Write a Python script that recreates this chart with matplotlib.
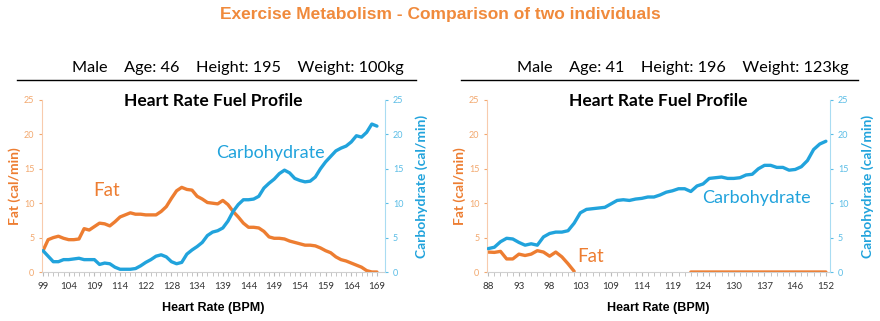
import numpy as np
import matplotlib.pyplot as plt
from matplotlib.lines import Line2D

ORANGE = "#ED7D31"
BLUE = "#21A3DC"
LIGHT_ORANGE = "#F2A86E"
LIGHT_BLUE = "#5BBDE6"

# person 1: Male, 46, 195, 100kg
hr_labels_1 = ["99", "104", "109", "114", "122", "128", "134", "139",
               "144", "149", "154", "159", "164", "169"]
fat_1 = [3.1, 4.7, 5.0, 5.2, 4.9, 4.7, 4.7, 4.8, 6.3, 6.1, 6.6, 7.1, 7.0, 6.7,
         7.3, 8.0, 8.3, 8.6, 8.4, 8.4, 8.3, 8.3, 8.3, 8.8, 9.5, 10.7, 11.8, 12.3,
         12.0, 11.9, 11.0, 10.6, 10.1, 10.0, 9.9, 10.4, 9.8, 8.8, 8.0, 7.1, 6.5,
         6.5, 6.4, 5.9, 5.1, 4.9, 4.9, 4.8, 4.5, 4.3, 4.1, 3.9, 3.9, 3.8, 3.5,
         3.1, 2.8, 2.2, 1.8, 1.6, 1.3, 1.0, 0.7, 0.2, 0.0, 0.0]
carb_1 = [3.1, 2.3, 1.5, 1.5, 1.8, 1.8, 1.9, 2.0, 1.8, 1.8, 1.8, 1.1, 1.3, 1.2,
          0.7, 0.4, 0.4, 0.4, 0.5, 0.9, 1.4, 1.8, 2.3, 2.5, 2.2, 1.5, 1.2, 1.4,
          2.6, 3.2, 3.7, 4.3, 5.3, 5.8, 6.0, 6.4, 7.4, 8.8, 9.8, 10.5, 10.5,
          10.6, 11.0, 12.2, 12.9, 13.5, 14.3, 14.8, 14.4, 13.6, 13.3, 13.1,
          13.2, 13.8, 15.0, 16.0, 16.8, 17.6, 18.0, 18.3, 18.9, 19.8, 19.6,
          20.3, 21.5, 21.2]

# person 2: Male, 41, 196, 123kg
hr_labels_2 = ["88", "93", "98", "103", "109", "114", "119", "124", "130",
               "137", "146", "152"]
nan = np.nan
fat_2 = [2.9, 2.85, 3.0, 1.9, 1.9, 2.6, 2.4, 2.6, 3.1, 2.9, 2.3, 2.9, 2.2, 1.2,
         0.1] + [nan] * 18 + [0.0] * 23
carb_2 = [3.4, 3.6, 4.4, 4.9, 4.8, 4.3, 3.9, 4.1, 3.9, 5.1, 5.6, 5.8, 5.8, 6.0,
          7.1, 8.6, 9.1, 9.2, 9.3, 9.4, 9.9, 10.4, 10.5, 10.4, 10.6, 10.7, 10.9,
          10.9, 11.2, 11.6, 11.8, 12.1, 12.1, 11.7, 12.5, 12.8, 13.6, 13.7,
          13.8, 13.6, 13.6, 13.7, 14.1, 14.2, 15.0, 15.5, 15.5, 15.2, 15.2,
          14.8, 14.9, 15.3, 16.2, 17.8, 18.6, 19.0]

plt.rcParams["font.family"] = ["Lato", "DejaVu Sans"]

fig = plt.figure(figsize=(8.8, 3.21), dpi=100)

fig.text(0.5, 0.955, "Exercise Metabolism - Comparison of two individuals",
         ha="center", va="center", color="#F08A3C", fontsize=12.5,
         fontweight="bold", family="Liberation Sans")


def panel(left, header, labels, fat, carb, fat_pos, carb_pos, hline):
    ax = fig.add_axes([left, 0.1526, 0.39, 0.536])
    x = np.arange(len(fat))
    ax.plot(x, fat, color=ORANGE, lw=2.4, solid_capstyle="round")
    ax2 = ax.twinx()
    ax2.plot(x, carb, color=BLUE, lw=2.4, solid_capstyle="round")

    for a in (ax, ax2):
        a.set_ylim(0, 25)
        a.set_yticks(range(0, 26, 5))
        a.set_xlim(-0.2, len(fat) + 0.6 if len(fat) > 60 else len(fat) - 0.3)
        a.spines["top"].set_visible(False)
    ax.spines["right"].set_visible(False)
    ax.spines["left"].set_color("#F8CBAD")
    ax2.spines["left"].set_visible(False)
    ax2.spines["bottom"].set_visible(False)
    ax2.spines["right"].set_color("#A9DCF2")
    ax.spines["bottom"].set_color("#D0D0D0")

    ax.tick_params(axis="y", colors=LIGHT_ORANGE, labelsize=6.5, length=2)
    ax2.tick_params(axis="y", colors=LIGHT_BLUE, labelsize=6.5, length=2)
    ax.set_xticks(np.arange(0, len(fat), 5))
    ax.set_xticklabels(labels)
    ax.set_xticks(x, minor=True)
    ax.tick_params(axis="x", which="both", length=3, color="#BBBBBB",
                   labelsize=7, labelcolor="#333333", pad=4)

    ax.set_ylabel("Fat (cal/min)", color=ORANGE, fontsize=10,
                  fontweight="bold", labelpad=2)
    ax2.set_ylabel("Carbohydrate (cal/min)", color=BLUE, fontsize=10,
                   fontweight="bold", labelpad=9)
    ax.set_xlabel("Heart Rate (BPM)", fontsize=9, fontweight="bold",
                  family="Liberation Sans", labelpad=8)
    ax.text(0.5, 0.995, "Heart Rate Fuel Profile", transform=ax.transAxes,
            ha="center", va="center", fontsize=12.5, fontweight="bold")

    ax.text(*fat_pos, "Fat", color=ORANGE, fontsize=13.5, ha="center",
            va="center")
    ax.text(*carb_pos, "Carbohydrate", color=BLUE, fontsize=13,
            ha="center", va="center")

    fig.text(left + 0.195 + 0.028, 0.788, header, ha="center", va="center",
             fontsize=11.7)
    fig.add_artist(Line2D(hline, [0.751, 0.751], color="black", lw=1.0,
                          transform=fig.transFigure))


panel(0.0477, "Male    Age: 46    Height: 195    Weight: 100kg",
      hr_labels_1, fat_1, carb_1, (12.4, 11.9), (44.2, 17.3), [0.019, 0.473])
panel(0.5534, "Male    Age: 41    Height: 196    Weight: 123kg",
      hr_labels_2, fat_2, carb_2, (16.7, 2.2), (43.7, 10.8), [0.524, 0.975])

fig.savefig("out.png", dpi=100)
